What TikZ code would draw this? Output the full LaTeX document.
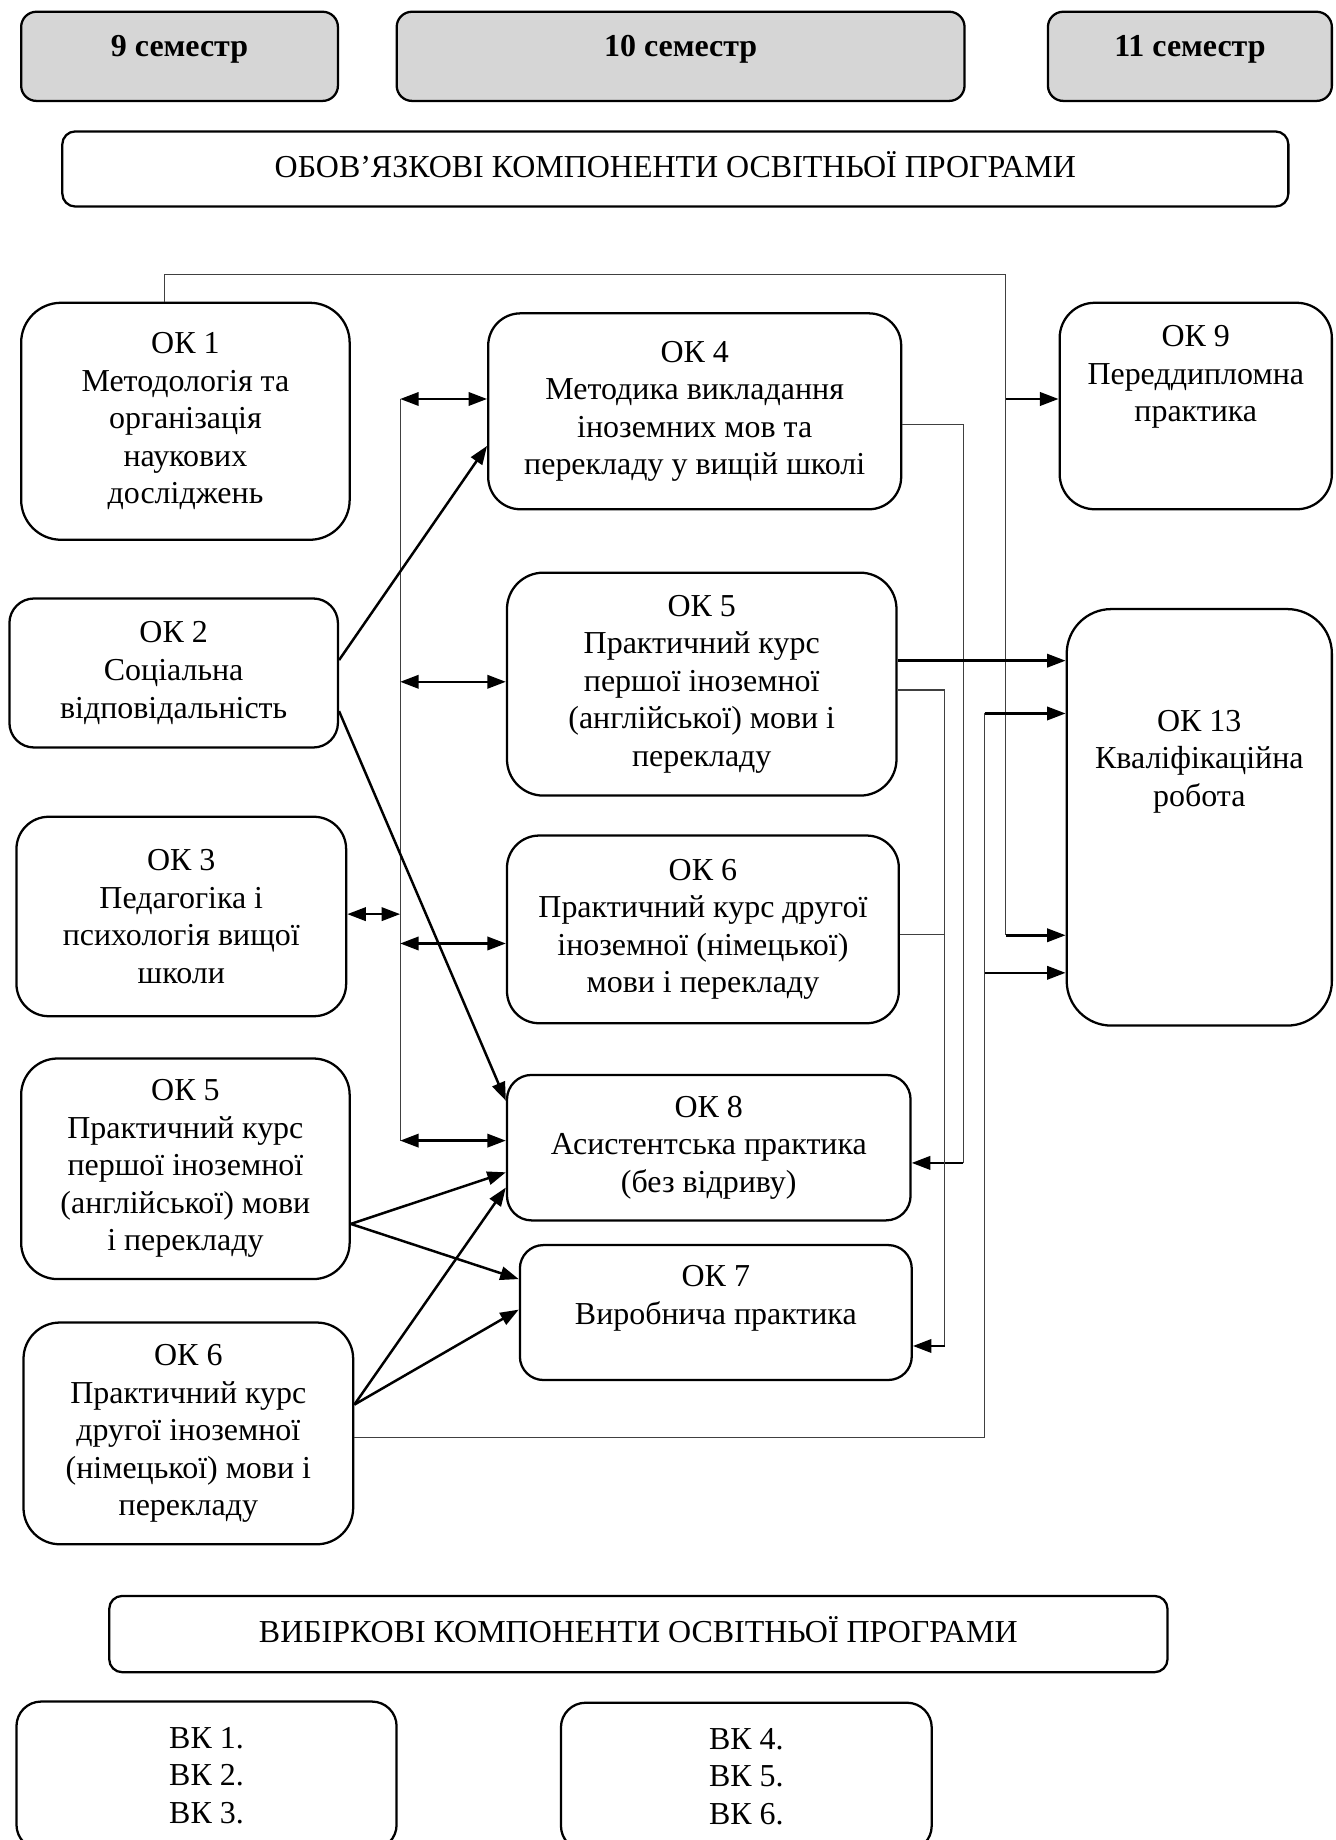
\documentclass[tikz,border=0pt]{standalone}
\usepackage{fontspec}
\setmainfont{Liberation Serif}
\usetikzlibrary{arrows.meta}

\tikzset{
  box/.style={draw, line width=1.1pt, rounded corners=0.55cm, align=center, inner sep=2pt},
  semestr/.style={box, fill=black!16, rounded corners=0.26cm, font=\fontsize{15.5}{18.2}\selectfont\bfseries, text height=10pt, text depth=10pt},
  header/.style={box, rounded corners=0.22cm, text height=11pt, text depth=3pt},
  wire/.style={line width=0.5pt, black!75},
  arr/.style={line width=1.2pt, -{Triangle[length=9pt,width=6.5pt]}},
  dbl/.style={line width=1.2pt, {Triangle[length=9pt,width=6.5pt]}-{Triangle[length=9pt,width=6.5pt]}},
}

\begin{document}
\begin{tikzpicture}[x=0.02cm, y=-0.02cm, font=\fontsize{15.5}{18.2}\selectfont]
  \useasboundingbox (0,0) rectangle (1138,1568);

  % semesters and headers
  \node[semestr, minimum width=5.4cm, minimum height=1.52cm] (s9) at (153,48) {9 семестр};
  \node[semestr, minimum width=9.68cm, minimum height=1.52cm] (s10) at (580,48) {10 семестр};
  \node[semestr, minimum width=4.84cm, minimum height=1.52cm] (s11) at (1014,48) {11 семестр};
  \node[header, minimum width=20.9cm, minimum height=1.28cm] (obov) at (575.5,144) {ОБОВ’ЯЗКОВІ КОМПОНЕНТИ ОСВІТНЬОЇ ПРОГРАМИ};

  % 9 semester
  \node[box, minimum width=5.6cm, minimum height=4.04cm, rounded corners=0.68cm] (ok1) at (158,359) {ОК 1\\Методологія та\\організація\\наукових\\досліджень};
  \node[box, minimum width=5.6cm, minimum height=2.54cm, rounded corners=0.42cm] (ok2) at (148,573.5) {ОК 2\\Соціальна\\відповідальність};
  \node[box, minimum width=5.62cm, minimum height=3.4cm] (ok3) at (154.5,781) {ОК 3\\Педагогіка і\\психологія вищої\\школи};
  \node[box, minimum width=5.6cm, minimum height=3.76cm, rounded corners=0.62cm] (ok5l) at (158,996) {ОК 5\\Практичний курс\\першої іноземної\\(англійської) мови\\і перекладу};
  \node[box, minimum width=5.62cm, minimum height=3.78cm, rounded corners=0.62cm] (ok6l) at (160.5,1221.5) {ОК 6\\Практичний курс\\другої іноземної\\(німецької) мови і\\перекладу};

  % 10 semester
  \node[box, minimum width=7.04cm, minimum height=3.34cm] (ok4) at (592,350.5) {ОК 4\\Методика викладання\\іноземних мов та\\перекладу у вищій школі};
  \node[box, minimum width=6.64cm, minimum height=3.8cm, rounded corners=0.62cm] (ok5m) at (598,583) {ОК 5\\Практичний курс\\першої іноземної\\(англійської) мови і\\перекладу};
  \node[box, minimum width=6.68cm, minimum height=3.2cm] (ok6m) at (599,792) {ОК 6\\Практичний курс другої\\іноземної (німецької)\\мови і перекладу};
  \node[box, minimum width=6.88cm, minimum height=2.48cm, rounded corners=0.42cm] (ok8) at (604,978) {ОК 8\\Асистентська практика\\(без відриву)};
  \node[box, minimum width=6.68cm, minimum height=2.3cm, rounded corners=0.4cm] (ok7) at (610,1118.5) {ОК 7\\Виробнича практика\\[-6.8pt]\strut};

  % 11 semester
  \node[box, minimum width=4.64cm, minimum height=3.52cm, rounded corners=0.6cm] (ok9) at (1019,346) {ОК 9\\Переддипломна\\практика\\[7.8pt]\strut};
  \node[box, minimum width=4.52cm, minimum height=7.1cm, rounded corners=0.76cm] (ok13) at (1022,696.5) {ОК 13\\Кваліфікаційна\\робота\\[33.8pt]\strut};

  % elective part
  \node[header, minimum width=18.04cm, minimum height=1.3cm] (vyb) at (544,1392.5) {ВИБІРКОВІ КОМПОНЕНТИ ОСВІТНЬОЇ ПРОГРАМИ};
  \node[box, minimum width=6.48cm, minimum height=2.52cm, rounded corners=0.42cm] (vk1) at (176,1513) {ВК 1.\\ВК 2.\\ВК 3.};
  \node[box, minimum width=6.32cm, minimum height=2.52cm, rounded corners=0.42cm] (vk4) at (636,1514) {ВК 4.\\ВК 5.\\ВК 6.};

  % left bus
  \coordinate (b4) at (341,340);
  \coordinate (b5) at (341,581);
  \coordinate (b3) at (341,779);
  \coordinate (b6) at (341,804);
  \coordinate (b8) at (341,972);
  \draw[wire] (b4) -- (b8);
  \draw[dbl] (b4) -- (b4 -| ok4.west);
  \draw[dbl] (b5) -- (b5 -| ok5m.west);
  \draw[dbl] (b6) -- (b6 -| ok6m.west);
  \draw[dbl] (b8) -- (b8 -| ok8.west);
  \draw[dbl] (b3 -| ok3.east) -- (b3);

  % diagonal links
  \draw[arr] ([yshift=0.22cm]ok2.east) -- ([yshift=-0.59cm]ok4.west);
  \draw[arr] ([yshift=-0.65cm]ok2.east) -- ([yshift=0.8cm]ok8.west);
  \draw[arr] ([yshift=-0.94cm]ok5l.east) -- ([yshift=-0.42cm]ok8.west);
  \draw[arr] ([yshift=-0.94cm]ok5l.east) -- ([yshift=0.57cm]ok7.west);
  \draw[arr] ([yshift=0.49cm]ok6l.east) -- ([yshift=-0.68cm]ok8.west);
  \draw[arr] ([yshift=0.49cm]ok6l.east) -- ([yshift=0.05cm]ok7.west);

  % feedback from OK 1
  \coordinate (t1) at (140,234);
  \coordinate (t2) at (857,234);
  \coordinate (t9) at (857,340);
  \coordinate (t13) at (857,797);
  \draw[wire] (ok1.north -| t1) -- (t1) -- (t2) -- (t13);
  \draw[arr] (t9) -- (t9 -| ok9.west);
  \draw[arr] (t13) -- (t13 -| ok13.west);

  % OK 4, OK 5, OK 6 to the practices
  \coordinate (r4) at (821,362);
  \coordinate (r8) at (821,991);
  \draw[wire] (r4 -| ok4.east) -- (r4) -- (r8);
  \draw[arr] (r8) -- (r8 -| ok8.east);
  \coordinate (r5) at (805,588);
  \coordinate (r6) at (805,796);
  \coordinate (r7) at (805,1147);
  \draw[wire] (r5 -| ok5m.east) -- (r5) -- (r7);
  \draw[wire] (r6 -| ok6m.east) -- (r6);
  \draw[arr] (r7) -- (r7 -| ok7.east);
  \coordinate (s5) at (764,563);
  \draw[arr] (s5 -| ok5m.east) -- (s5 -| ok13.west);

  % feedback from OK 6
  \coordinate (f1) at (839,1225);
  \coordinate (f2) at (839,608);
  \coordinate (f3) at (839,829);
  \draw[wire] (f1 -| ok6l.east) -- (f1) -- (f2);
  \draw[arr] (f2) -- (f2 -| ok13.west);
  \draw[arr] (f3) -- (f3 -| ok13.west);
\end{tikzpicture}
\end{document}
